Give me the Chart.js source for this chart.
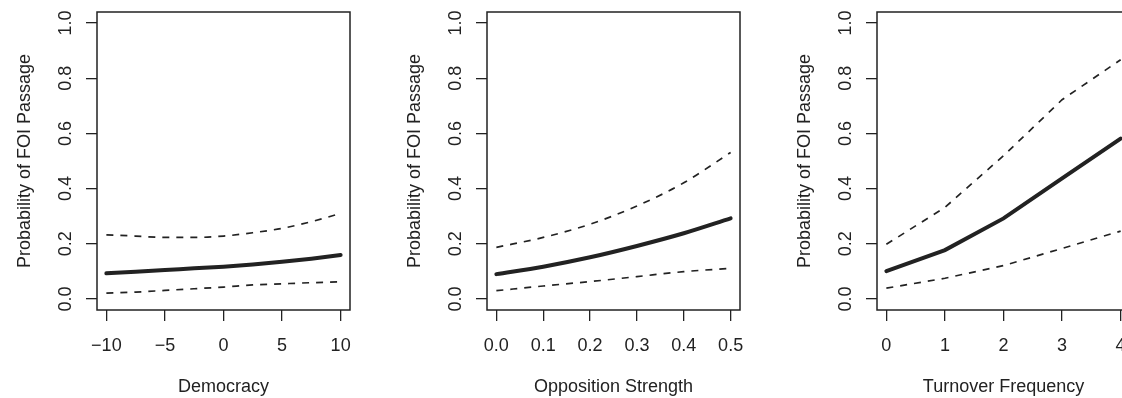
<!DOCTYPE html>
<html lang="en">
<head>
<meta charset="utf-8"/>
<title>Probability of FOI Passage</title>
<style>
  html, body {
    margin: 0;
    padding: 0;
    background: #fff;
    width: 1122px;
    height: 398px;
    overflow: hidden;
  }
  .panel {
    position: absolute;
    top: 0;
    width: 390px;
    height: 398px;
  }
</style>
</head>
<body>
<div class="panel" style="left:0px"><canvas id="c1" width="390" height="398"></canvas></div>
<div class="panel" style="left:390px"><canvas id="c2" width="390" height="398"></canvas></div>
<div class="panel" style="left:780px"><canvas id="c3" width="390" height="398"></canvas></div>
<script src="https://cdn.jsdelivr.net/npm/chart.js"></script>
<script>
  // shared y axis
  const yTicks = [0, 0.2, 0.4, 0.6, 0.8, 1.0];
  const yTitle = 'Probability of FOI Passage';

  // panel 1 - Democracy
  const demX     = [-10, -7.5, -5, -2.5, 0, 2.5, 5, 7.5, 10];
  const demFit   = [0.093, 0.099, 0.105, 0.111, 0.117, 0.125, 0.135, 0.146, 0.159];
  const demUpper = [0.232, 0.228, 0.223, 0.223, 0.228, 0.240, 0.256, 0.280, 0.310];
  const demLower = [0.021, 0.025, 0.031, 0.037, 0.043, 0.051, 0.055, 0.059, 0.062];
  const demTicks = [-10, -5, 0, 5, 10];

  // panel 2 - Opposition Strength
  const oppX     = [0, 0.1, 0.2, 0.3, 0.4, 0.5];
  const oppFit   = [0.090, 0.117, 0.151, 0.192, 0.238, 0.292];
  const oppUpper = [0.187, 0.223, 0.271, 0.337, 0.421, 0.531];
  const oppLower = [0.030, 0.047, 0.063, 0.081, 0.099, 0.111];
  const oppTicks = [0, 0.1, 0.2, 0.3, 0.4, 0.5];

  // panel 3 - Turnover Frequency
  const turnX     = [0, 1, 2, 3, 4];
  const turnFit   = [0.101, 0.177, 0.292, 0.437, 0.581];
  const turnUpper = [0.198, 0.332, 0.519, 0.722, 0.867];
  const turnLower = [0.039, 0.075, 0.121, 0.183, 0.246];
  const turnTicks = [0, 1, 2, 3, 4];

  const ink = '#222';
  const font = { family: "'Liberation Sans', Arial, Helvetica, sans-serif", size: 18 };

  // R style frame round the plot region
  const boxPlugin = {
    id: 'box',
    afterDatasetsDraw(chart) {
      const a = chart.chartArea;
      const ctx = chart.ctx;
      ctx.save();
      ctx.strokeStyle = ink;
      ctx.lineWidth = 1.5;
      ctx.strokeRect(a.left, a.top, a.right - a.left, a.bottom - a.top);
      ctx.restore();
    }
  };

  function pts(xs, ys) {
    return xs.map((x, i) => ({ x: x, y: ys[i] }));
  }

  function makePanel(id, xs, fit, upper, lower, ticks, title, fmt, smooth) {
    const lo = ticks[0], hi = ticks[ticks.length - 1];
    const ext = (hi - lo) * 0.04;
    const line = {
      borderColor: ink,
      pointRadius: 0,
      tension: 0,
      cubicInterpolationMode: smooth ? 'monotone' : 'default'
    };
    new Chart(document.getElementById(id), {
      type: 'line',
      data: {
        datasets: [
          Object.assign({ data: pts(xs, upper), borderWidth: 1.7, borderDash: [7, 7] }, line),
          Object.assign({ data: pts(xs, fit), borderWidth: 4, borderCapStyle: 'round' }, line),
          Object.assign({ data: pts(xs, lower), borderWidth: 1.7, borderDash: [7, 7] }, line)
        ]
      },
      options: {
        responsive: false,
        animation: false,
        events: [],
        layout: { padding: { left: 0, top: 12, right: 40, bottom: 0 } },
        plugins: { legend: { display: false }, tooltip: { enabled: false } },
        scales: {
          x: {
            type: 'linear',
            min: lo - ext,
            max: hi + ext,
            afterBuildTicks: s => { s.ticks = ticks.map(v => ({ value: v })); },
            afterFit: s => { s.height = 88; s.paddingLeft = 0; s.paddingRight = 0; },
            grid: { drawOnChartArea: false, tickLength: 11, color: ink, lineWidth: 1.3 },
            border: { display: false },
            ticks: {
              color: ink,
              font: font,
              padding: 14,
              maxRotation: 0,
              autoSkip: false,
              callback: v => fmt(v)
            },
            title: { display: true, text: title, color: ink, font: font, padding: { top: 0, bottom: 0 } }
          },
          y: {
            min: -0.04,
            max: 1.04,
            afterBuildTicks: s => { s.ticks = yTicks.map(v => ({ value: v })); },
            afterFit: s => { s.width = 97; s.paddingTop = 0; s.paddingBottom = 0; },
            grid: { drawOnChartArea: false, tickLength: 11, color: ink, lineWidth: 1.3 },
            border: { display: false },
            ticks: {
              color: ink,
              font: font,
              padding: 7,
              minRotation: 90,
              maxRotation: 90,
              crossAlign: 'center',
              autoSkip: false,
              callback: v => v.toFixed(1)
            },
            title: { display: true, text: yTitle, color: ink, font: font, padding: { top: 14.5, bottom: 0 } }
          }
        }
      },
      plugins: [boxPlugin]
    });
  }

  const minus = v => (v < 0 ? '\u2212' + Math.abs(v) : String(v));

  makePanel('c1', demX, demFit, demUpper, demLower, demTicks, 'Democracy', minus, true);
  makePanel('c2', oppX, oppFit, oppUpper, oppLower, oppTicks, 'Opposition Strength', v => v.toFixed(1), true);
  makePanel('c3', turnX, turnFit, turnUpper, turnLower, turnTicks, 'Turnover Frequency', v => String(v), false);
</script>
</body>
</html>
